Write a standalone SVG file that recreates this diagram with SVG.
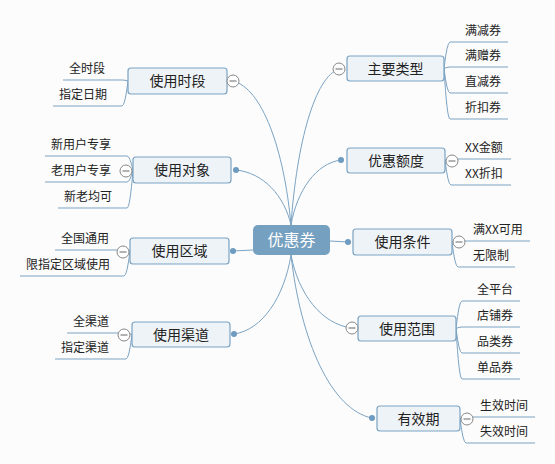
<svg xmlns="http://www.w3.org/2000/svg" width="555" height="464" viewBox="0 0 555 464">
<style>
.bg{fill:#fcfcfc}
.conn path,.conn line{fill:none;stroke:#7BA3C3;stroke-width:1}
.ul{stroke:#7BA3C3;stroke-width:1}
.node rect{fill:#EEF3F7;stroke:#7BA3C3;stroke-width:1.2}
.node text{font-family:"Noto Sans CJK SC","Noto Sans",sans-serif;font-size:14px;fill:#222;text-anchor:middle}
.leaf text{font-family:"Noto Sans CJK SC","Noto Sans",sans-serif;font-size:12px;fill:#222}
.root rect{fill:#76A0C0}
.root text{font-family:"Noto Sans CJK SC","Noto Sans",sans-serif;font-size:16px;fill:#fff;text-anchor:middle}
.col circle{fill:#fff;stroke:#888;stroke-width:1}
.col line{stroke:#666;stroke-width:1}
.dot{fill:#6E9BC0}
</style>
<rect class="bg" x="0" y="0" width="555" height="464"/>
<g id="connectors" class="conn">
<path d="M291,225 C284,148.7 262,88.2 233,81"/>
<path d="M291,225 C284.4,195.9 263.5,172.8 236,170"/>
<path d="M291,225 C296.8,142.3 315,76.8 339,69"/>
<path d="M291,225 C297,190.6 316,163.3 341,160"/>
<path d="M291,255 C284.2,296.9 262.5,330 234,334"/>
<path d="M291,255 C298.3,293.7 321.5,324.4 352,328"/>
<path d="M291,255 C300.7,341.4 331.5,409.9 372,418"/>
<path d="M253,250 L233,251"/>
<path d="M330,241 L348,242"/>
<path d="M128,81 Q125,80 122,80"/>
<path d="M128,81 Q125,106 122,106"/>
<path d="M133,170 Q130,156 127,156"/>
<path d="M133,170 Q130,182 127,182"/>
<path d="M133,170 Q130,208 127,208"/>
<path d="M130,251 Q127,250 124,250"/>
<path d="M130,251 Q127,276 124,276"/>
<path d="M132,334.5 Q129,333 126,333"/>
<path d="M132,334.5 Q129,359 126,359"/>
<path d="M444,68.5 Q447,42 450,42"/>
<path d="M444,68.5 Q447,67 450,67"/>
<path d="M444,68.5 Q447,93 450,93"/>
<path d="M444,68.5 Q447,119 450,119"/>
<path d="M445,160.5 Q448,159 451,159"/>
<path d="M445,160.5 Q448,185 451,185"/>
<path d="M452,242 Q455,241 458,241"/>
<path d="M452,242 Q455,267 458,267"/>
<path d="M456,328.5 Q459,301 462,301"/>
<path d="M456,328.5 Q459,327 462,327"/>
<path d="M456,328.5 Q459,353 462,353"/>
<path d="M456,328.5 Q459,379 462,379"/>
<path d="M460,418.5 Q463,417 466,417"/>
<path d="M460,418.5 Q463,443 466,443"/>
</g>
<g id="root" class="root"><rect x="253" y="225" width="77" height="30" rx="5"/><text x="291.5" y="245.5">优惠券</text></g>
<g id="n-shiduan" class="node"><rect x="128" y="68" width="99" height="26" rx="3"/><text x="177.5" y="86">使用时段</text></g>
<g id="n-duixiang" class="node"><rect x="133" y="157" width="98" height="26" rx="3"/><text x="182" y="175">使用对象</text></g>
<g id="n-quyu" class="node"><rect x="130" y="238" width="99" height="26" rx="3"/><text x="179.5" y="256">使用区域</text></g>
<g id="n-qudao" class="node"><rect x="132" y="322" width="98" height="25" rx="3"/><text x="181" y="339.5">使用渠道</text></g>
<g id="n-leixing" class="node"><rect x="347" y="56" width="97" height="25" rx="3"/><text x="395.5" y="73.5">主要类型</text></g>
<g id="n-edu" class="node"><rect x="347" y="148" width="98" height="25" rx="3"/><text x="396" y="165.5">优惠额度</text></g>
<g id="n-tiaojian" class="node"><rect x="353" y="229" width="99" height="26" rx="3"/><text x="402.5" y="247">使用条件</text></g>
<g id="n-fanwei" class="node"><rect x="358" y="316" width="98" height="25" rx="3"/><text x="407" y="333.5">使用范围</text></g>
<g id="n-youxiaoqi" class="node"><rect x="377" y="406" width="83" height="25" rx="3"/><text x="418.5" y="423.5">有效期</text></g>
<g id="l-quanshiduan" class="leaf"><line class="ul" x1="63" y1="80" x2="122" y2="80"/><text x="69" y="72.5">全时段</text></g>
<g id="l-zhidingriqi" class="leaf"><line class="ul" x1="53" y1="106" x2="122" y2="106"/><text x="59" y="98.5">指定日期</text></g>
<g id="l-xinyonghu" class="leaf"><line class="ul" x1="45" y1="156" x2="127" y2="156"/><text x="51" y="148.5">新用户专享</text></g>
<g id="l-laoyonghu" class="leaf"><line class="ul" x1="45" y1="182" x2="127" y2="182"/><text x="51" y="174.5">老用户专享</text></g>
<g id="l-xinlao" class="leaf"><line class="ul" x1="58" y1="208" x2="127" y2="208"/><text x="64" y="200.5">新老均可</text></g>
<g id="l-quanguo" class="leaf"><line class="ul" x1="55" y1="250" x2="124" y2="250"/><text x="61" y="242.5">全国通用</text></g>
<g id="l-xianzhiding" class="leaf"><line class="ul" x1="20" y1="276" x2="124" y2="276"/><text x="26" y="268.5">限指定区域使用</text></g>
<g id="l-quanqudao" class="leaf"><line class="ul" x1="67" y1="333" x2="126" y2="333"/><text x="73" y="325.5">全渠道</text></g>
<g id="l-zhidingqudao" class="leaf"><line class="ul" x1="55" y1="359" x2="126" y2="359"/><text x="61" y="351.5">指定渠道</text></g>
<g id="l-manjian" class="leaf"><line class="ul" x1="450" y1="42" x2="508" y2="42"/><text x="465" y="34.5">满减券</text></g>
<g id="l-manzeng" class="leaf"><line class="ul" x1="450" y1="67" x2="508" y2="67"/><text x="465" y="59.5">满赠券</text></g>
<g id="l-zhijian" class="leaf"><line class="ul" x1="450" y1="93" x2="508" y2="93"/><text x="465" y="85.5">直减券</text></g>
<g id="l-zhekou" class="leaf"><line class="ul" x1="450" y1="119" x2="508" y2="119"/><text x="465" y="111.5">折扣券</text></g>
<g id="l-jine" class="leaf"><line class="ul" x1="451" y1="159" x2="511" y2="159"/><text x="465" y="151.5">XX金额</text></g>
<g id="l-zhekou2" class="leaf"><line class="ul" x1="451" y1="185" x2="511" y2="185"/><text x="465" y="177.5">XX折扣</text></g>
<g id="l-manke" class="leaf"><line class="ul" x1="458" y1="241" x2="530" y2="241"/><text x="473" y="233.5">满XX可用</text></g>
<g id="l-wuxianzhi" class="leaf"><line class="ul" x1="458" y1="267" x2="515" y2="267"/><text x="473" y="259.5">无限制</text></g>
<g id="l-quanpingtai" class="leaf"><line class="ul" x1="462" y1="301" x2="520" y2="301"/><text x="477" y="293.5">全平台</text></g>
<g id="l-dianpu" class="leaf"><line class="ul" x1="462" y1="327" x2="520" y2="327"/><text x="477" y="319.5">店铺券</text></g>
<g id="l-pinlei" class="leaf"><line class="ul" x1="462" y1="353" x2="520" y2="353"/><text x="477" y="345.5">品类券</text></g>
<g id="l-danpin" class="leaf"><line class="ul" x1="462" y1="379" x2="520" y2="379"/><text x="477" y="371.5">单品券</text></g>
<g id="l-shengxiao" class="leaf"><line class="ul" x1="466" y1="417" x2="535" y2="417"/><text x="480" y="409.5">生效时间</text></g>
<g id="l-shixiao" class="leaf"><line class="ul" x1="466" y1="443" x2="535" y2="443"/><text x="480" y="435.5">失效时间</text></g>
<g id="markers">
<g class="col"><circle cx="233" cy="81" r="6"/><line x1="229.5" y1="81" x2="236.5" y2="81"/></g>
<g class="col"><circle cx="126" cy="171" r="6"/><line x1="122.5" y1="171" x2="129.5" y2="171"/></g>
<g class="col"><circle cx="123" cy="252" r="6"/><line x1="119.5" y1="252" x2="126.5" y2="252"/></g>
<g class="col"><circle cx="124" cy="335" r="6"/><line x1="120.5" y1="335" x2="127.5" y2="335"/></g>
<g class="col"><circle cx="339" cy="69" r="6"/><line x1="335.5" y1="69" x2="342.5" y2="69"/></g>
<g class="col"><circle cx="452" cy="161" r="6"/><line x1="448.5" y1="161" x2="455.5" y2="161"/></g>
<g class="col"><circle cx="459" cy="242" r="6"/><line x1="455.5" y1="242" x2="462.5" y2="242"/></g>
<g class="col"><circle cx="352" cy="328" r="6"/><line x1="348.5" y1="328" x2="355.5" y2="328"/></g>
<g class="col"><circle cx="467" cy="419" r="6"/><line x1="463.5" y1="419" x2="470.5" y2="419"/></g>
<circle class="dot" cx="236" cy="170" r="3"/>
<circle class="dot" cx="233" cy="251" r="3"/>
<circle class="dot" cx="234" cy="334" r="3"/>
<circle class="dot" cx="341" cy="160" r="3"/>
<circle class="dot" cx="348" cy="242" r="3"/>
<circle class="dot" cx="372" cy="418" r="3"/>
</g>
</svg>
